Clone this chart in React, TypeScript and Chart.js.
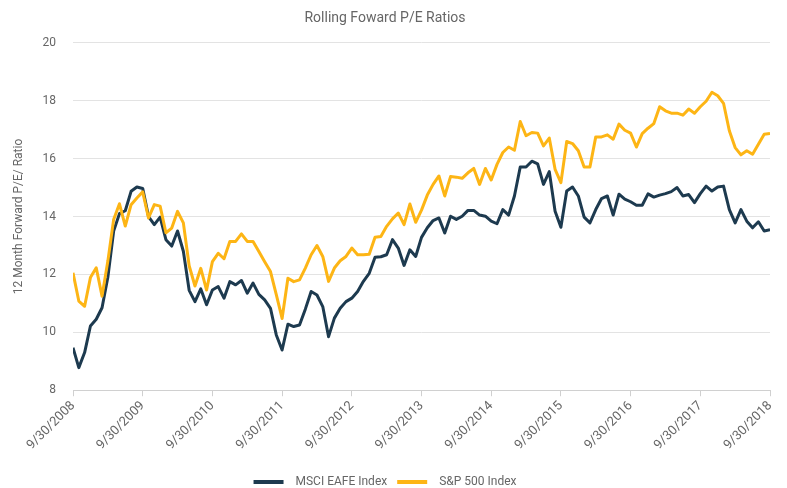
import React, { useEffect, useRef } from "react";
import { Chart, registerables } from "chart.js";

Chart.register(...registerables);

const tickLabels = [
  "9/30/2008", "9/30/2009", "9/30/2010", "9/30/2011", "9/30/2012", "9/30/2013",
  "9/30/2014", "9/30/2015", "9/30/2016", "9/30/2017", "9/30/2018",
];

// Monthly values, 9/30/2008 .. 9/30/2018
const eafe = [
  9.47, 8.78, 9.3, 10.22, 10.45, 10.85, 11.9, 13.5, 14.1, 14.2, 14.87, 15.02,
  14.97, 14.0, 13.72, 13.98, 13.2, 12.98, 13.5, 12.8, 11.45, 11.06, 11.5, 10.95,
  11.46, 11.58, 11.18, 11.75, 11.64, 11.79, 11.35, 11.7, 11.31, 11.12, 10.83, 9.91,
  9.39, 10.28, 10.2, 10.25, 10.8, 11.41, 11.29, 10.89, 9.85, 10.49, 10.83, 11.06,
  11.18, 11.41, 11.76, 12.04, 12.59, 12.61, 12.68, 13.2, 12.91, 12.31, 12.85, 12.62,
  13.28, 13.61, 13.86, 13.95, 13.43, 14.01, 13.9, 14.01, 14.21, 14.21, 14.05, 14.01,
  13.84, 13.75, 14.24, 14.05, 14.71, 15.71, 15.71, 15.91, 15.82, 15.11, 15.55, 14.18,
  13.63, 14.88, 15.02, 14.71, 13.98, 13.78, 14.24, 14.62, 14.71, 14.05, 14.77, 14.6,
  14.51, 14.39, 14.39, 14.78, 14.67, 14.74, 14.79, 14.86, 15.0, 14.71, 14.76, 14.48,
  14.79, 15.05, 14.88, 15.02, 15.05, 14.24, 13.78, 14.24, 13.84, 13.61, 13.82, 13.5,
  13.54,
];

const sp500 = [
  12.06, 11.08, 10.9, 11.89, 12.23, 11.25, 12.46, 13.9, 14.44, 13.67, 14.41, 14.64,
  14.85, 13.95, 14.41, 14.36, 13.44, 13.6, 14.18, 13.78, 12.3, 11.6, 12.21, 11.46,
  12.44, 12.73, 12.54, 13.14, 13.14, 13.4, 13.14, 13.14, 12.79, 12.44, 12.1, 11.3,
  10.48, 11.87, 11.75, 11.81, 12.22, 12.68, 13.0, 12.62, 11.76, 12.22, 12.47, 12.62,
  12.91, 12.68, 12.68, 12.7, 13.28, 13.31, 13.66, 13.92, 14.12, 13.72, 14.43, 13.8,
  14.22, 14.74, 15.11, 15.4, 14.71, 15.38, 15.36, 15.32, 15.51, 15.66, 15.11, 15.66,
  15.26, 15.8, 16.21, 16.4, 16.29, 17.28, 16.79, 16.9, 16.88, 16.44, 16.71, 15.63,
  15.17, 16.59, 16.52, 16.27, 15.71, 15.71, 16.75, 16.75, 16.82, 16.67, 17.19, 16.98,
  16.88, 16.4, 16.86, 17.05, 17.21, 17.79, 17.65, 17.57, 17.57, 17.5, 17.71, 17.57,
  17.79, 17.98, 18.29, 18.17, 17.91, 16.96, 16.38, 16.13, 16.27, 16.15, 16.5, 16.84,
  16.87,
];

const seriesNames = ["MSCI EAFE Index", "S&P 500 Index"];
const seriesColors = ["#1d3a4f", "#fdb515"];

export default function App() {
  const ref = useRef<HTMLCanvasElement | null>(null);

  useEffect(() => {
    if (!ref.current) return;
    Chart.defaults.font.family = "Roboto";
    Chart.defaults.color = "#666";
    const toPts = (arr: number[]) => arr.map((y, i) => ({ x: i, y }));
    const chart = new Chart(ref.current, {
      type: "line",
      data: {
        datasets: [
          {
            label: seriesNames[1],
            data: toPts(sp500),
            borderColor: seriesColors[1],
            backgroundColor: seriesColors[1],
            borderWidth: 3,
            pointRadius: 0,
            tension: 0,
            borderJoinStyle: "round",
          },
          {
            label: seriesNames[0],
            data: toPts(eafe),
            borderColor: seriesColors[0],
            backgroundColor: seriesColors[0],
            borderWidth: 3,
            pointRadius: 0,
            tension: 0,
            borderJoinStyle: "round",
          },
        ],
      },
      options: {
        animation: false,
        responsive: true,
        maintainAspectRatio: false,
        layout: { padding: { left: 0, right: 17, top: 0, bottom: -10 } },
        plugins: {
          tooltip: { enabled: false },
          title: {
            display: true,
            text: "Rolling Foward P/E Ratios",
            color: "#666",
            font: { size: 14, weight: "normal" },
            padding: { top: 10, bottom: 16 },
          },
          legend: {
            position: "bottom",
            reverse: true,
            labels: {
              boxWidth: 30,
              boxHeight: 4,
              padding: 10,
              color: "#666",
              font: { size: 12 },
              generateLabels: (c: any) =>
                Chart.defaults.plugins.legend.labels
                  .generateLabels(c)
                  .map((l: any) => ({ ...l, text: "  " + l.text, lineWidth: 0 })),
            },
          },
        },
        scales: {
          x: {
            type: "linear",
            min: 0,
            max: 120,
            ticks: {
              stepSize: 12,
              autoSkip: false,
              minRotation: 45,
              maxRotation: 45,
              padding: 2,
              color: "#666",
              font: { size: 13 },
              callback: (v: any) => {
                const i = Math.round(Number(v) / 12);
                return Number(v) % 12 === 0 ? tickLabels[i] : "";
              },
            },
            grid: {
              drawOnChartArea: false,
              drawTicks: true,
              tickLength: 6,
              color: "#d0d0d0",
            },
            border: { display: true, color: "#d0d0d0" },
            afterFit: (s: any) => {
              s.height += 11;
            },
          },
          y: {
            min: 8,
            max: 20,
            ticks: { stepSize: 2, padding: 17, color: "#666", font: { size: 12 } },
            grid: { color: "#e3e3e3", drawTicks: false },
            border: { display: false },
            title: {
              display: true,
              text: "12 Month Forward P/E/ Ratio",
              color: "#666",
              font: { size: 12 },
              padding: { top: 12, bottom: 0 },
            },
            afterFit: (s: any) => {
              s.width = 73;
            },
          },
        },
      },
    });
    return () => chart.destroy();
  }, []);

  return (
    <div style={{ position: "absolute", left: 0, top: 0, width: 787, height: 488 }}>
      <canvas ref={ref} />
    </div>
  );
}
